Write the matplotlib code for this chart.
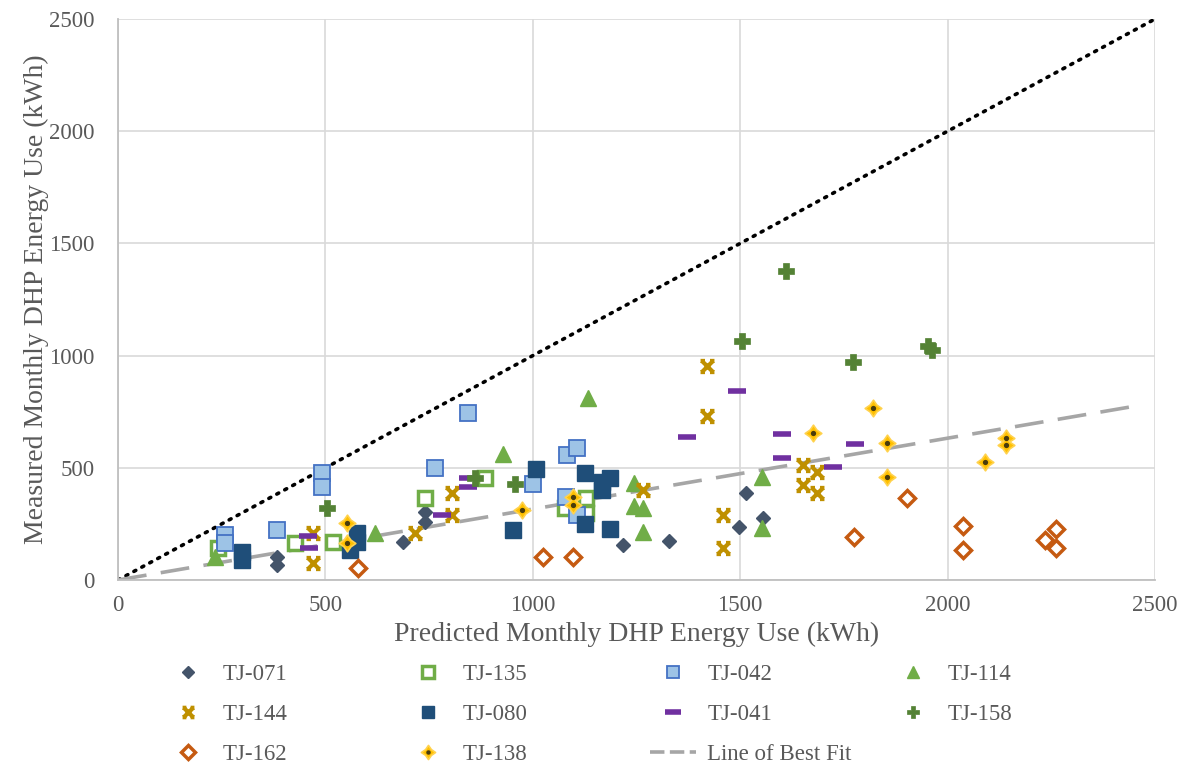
import matplotlib
matplotlib.use("Agg")
import matplotlib.pyplot as plt
from matplotlib.lines import Line2D
from matplotlib.path import Path
from matplotlib.legend_handler import HandlerTuple

# ---------------- data ----------------
tj071_x = [383, 383, 687, 740, 740, 1217, 1328, 1514, 1497, 1555]
tj071_y = [102, 67, 169, 303, 258, 156, 174, 387, 236, 276]

tj135_x = [241, 427, 518, 740, 885, 1078, 1128, 1128]
tj135_y = [142, 165, 168, 365, 456, 320, 365, 298]

tj042_x = [258, 258, 383, 492, 492, 764, 844, 1000, 1082, 1107, 1080, 1107]
tj042_y = [200, 165, 222, 476, 414, 498, 743, 427, 556, 587, 369, 289]

tj114_x = [234, 620, 929, 1133, 1244, 1244, 1266, 1266, 1552, 1552]
tj114_y = [102, 209, 563, 810, 432, 329, 320, 214, 458, 231]

tj144_x = [470, 470, 716, 805, 805, 1266, 1420, 1420, 1458, 1458, 1651, 1685, 1651, 1685]
tj144_y = [209, 76, 209, 387, 289, 400, 952, 730, 289, 142, 512, 480, 423, 387]

tj080_x = [299, 299, 576, 576, 559, 953, 1008, 1126, 1186, 1167, 1167, 1126, 1186]
tj080_y = [125, 89, 209, 169, 133, 222, 494, 476, 454, 436, 400, 249, 227]

tj041_x = [458, 461, 781, 844, 844, 1372, 1492, 1601, 1601, 1777, 1724]
tj041_y = [196, 142, 289, 454, 414, 636, 841, 650, 543, 605, 503]

tj158_x = [504, 861, 957, 1504, 1610, 1772, 1953, 1962]
tj158_y = [320, 454, 427, 1063, 1379, 970, 1045, 1023]

tj162_x = [579, 1025, 1097, 1774, 1902, 2037, 2037, 2235, 2261, 2261]
tj162_y = [53, 102, 102, 191, 365, 240, 133, 178, 227, 142]

tj138_x = [552, 552, 974, 1097, 1097, 1676, 1820, 1854, 1854, 2141, 2141, 2090]
tj138_y = [254, 165, 311, 369, 334, 654, 765, 609, 458, 632, 600, 525]

best_fit_slope = 0.316
best_fit_xrange = [0, 2470]
one_to_one = [0, 2500]

axis_ticks = [0, 500, 1000, 1500, 2000, 2500]

# ---------------- styling ----------------
plt.rcParams['font.family'] = ['Liberation Serif', 'DejaVu Serif']
TXT = '#595959'

fig = plt.figure(figsize=(11.81, 7.64), dpi=100)
ax = fig.add_axes([118/1181, 1-580/764, (1155-118)/1181, (580-19)/764])

ax.set_xlim(0, 2500)
ax.set_ylim(0, 2500)
ax.set_xticks(axis_ticks)
ax.set_yticks(axis_ticks)
ax.grid(True, color='#d9d9d9', lw=1.2, zorder=0)
ax.set_axisbelow(True)
for s in ['top', 'right']:
    ax.spines[s].set_visible(False)
for s in ['left', 'bottom']:
    ax.spines[s].set_color('#bfbfbf')
    ax.spines[s].set_linewidth(1.3)
ax.tick_params(length=0, labelsize=16.5, colors=TXT)
ax.tick_params(axis='y', pad=17)
ax.tick_params(axis='x', pad=11)
ax.set_xlabel('Predicted Monthly DHP Energy Use (kWh)', fontsize=20, color=TXT, labelpad=4)
ax.set_ylabel('Measured Monthly DHP Energy Use (kWh)', fontsize=20, color=TXT, labelpad=0)

# 1:1 line and best-fit
ax.plot(one_to_one, one_to_one, color='black', lw=2.6, linestyle=(0, (0.6, 1.9)),
        dash_capstyle='round', zorder=2)
bf_y = [best_fit_slope * v for v in best_fit_xrange]
ax.plot(best_fit_xrange, bf_y, color='#a6a6a6', lw=2.6, linestyle=(0, (8, 4)), zorder=2)

# custom "X with end bars" marker
xbar = Path([(-1, 1), (1, -1), (1, 1), (-1, -1),
             (-1.25, 1), (-0.45, 1), (0.45, 1), (1.25, 1),
             (-1.25, -1), (-0.45, -1), (0.45, -1), (1.25, -1)],
            [Path.MOVETO, Path.LINETO, Path.MOVETO, Path.LINETO,
             Path.MOVETO, Path.LINETO, Path.MOVETO, Path.LINETO,
             Path.MOVETO, Path.LINETO, Path.MOVETO, Path.LINETO])
# four-point star (rounded look)
r_in = 0.58
star4 = Path([(0, 1), (r_in*0.707, r_in*0.707), (1, 0), (r_in*0.707, -r_in*0.707),
              (0, -1), (-r_in*0.707, -r_in*0.707), (-1, 0), (-r_in*0.707, r_in*0.707),
              (0, 1)], closed=True)

styles = {
    'TJ-071': dict(marker='D', ms=7, mfc='#44546A', mec='#44546A', mew=1),
    'TJ-135': dict(marker='s', ms=10, mfc='white', mec='#70AD47', mew=2.5),
    'TJ-042': dict(marker='s', ms=11, mfc='#9DC3E6', mec='#4472C4', mew=1.3),
    'TJ-114': dict(marker='^', ms=11, mfc='#70AD47', mec='#70AD47', mew=1),
    'TJ-144': dict(marker=xbar, ms=10, mfc='none', mec='#BF9000', mew=3),
    'TJ-080': dict(marker='s', ms=11, mfc='#1F4E79', mec='#1F4E79', mew=1),
    'TJ-041': dict(marker='_', ms=13, mfc='#7030A0', mec='#7030A0', mew=4),
    'TJ-158': dict(marker='P', ms=11, mfc='#548235', mec='#548235', mew=0.5),
    'TJ-162': dict(marker='D', ms=8.5, mfc='white', mec='#C55A11', mew=2.5),
    'TJ-138': dict(marker=star4, ms=12, mfc='#FFC000', mec='#FFD24D', mew=1.2),
}
series = [
    ('TJ-071', tj071_x, tj071_y), ('TJ-135', tj135_x, tj135_y),
    ('TJ-042', tj042_x, tj042_y), ('TJ-114', tj114_x, tj114_y),
    ('TJ-144', tj144_x, tj144_y), ('TJ-080', tj080_x, tj080_y),
    ('TJ-041', tj041_x, tj041_y), ('TJ-158', tj158_x, tj158_y),
    ('TJ-162', tj162_x, tj162_y), ('TJ-138', tj138_x, tj138_y),
]
handles = {}
for name, xs, ys in series:
    st = styles[name]
    ax.plot(xs, ys, linestyle='none', zorder=3, clip_on=False, **st)
    h = Line2D([], [], linestyle='none', **st)
    if name == 'TJ-138':
        dot = dict(marker='o', ms=3.8, mfc='#4a3c0c', mec='#4a3c0c', mew=0)
        ax.plot(xs, ys, linestyle='none', zorder=4, **dot)
        h = (h, Line2D([], [], linestyle='none', **dot))
    handles[name] = h

handles['Line of Best Fit'] = Line2D([], [], color='#a6a6a6', lw=2.6, linestyle=(0, (4, 1.5)))

columns = [
    ['TJ-071', 'TJ-144', 'TJ-162'],
    ['TJ-135', 'TJ-080', 'TJ-138'],
    ['TJ-042', 'TJ-041', 'Line of Best Fit'],
    ['TJ-114', 'TJ-158'],
]
col_left_px = [165, 405, 650, 890]
for labels, px in zip(columns, col_left_px):
    leg = fig.legend([handles[l] for l in labels], labels,
                     loc='upper left', bbox_to_anchor=(px/1181, 1-664/764),
                     frameon=False, fontsize=16.5, handlelength=2.0,
                     handletextpad=0.5, labelspacing=0.82, borderpad=0,
                     borderaxespad=0, markerscale=0.85,
                     handler_map={tuple: HandlerTuple(ndivide=1, pad=0)})
    for t in leg.get_texts():
        t.set_color(TXT)

fig.savefig('out.png', dpi=100)
